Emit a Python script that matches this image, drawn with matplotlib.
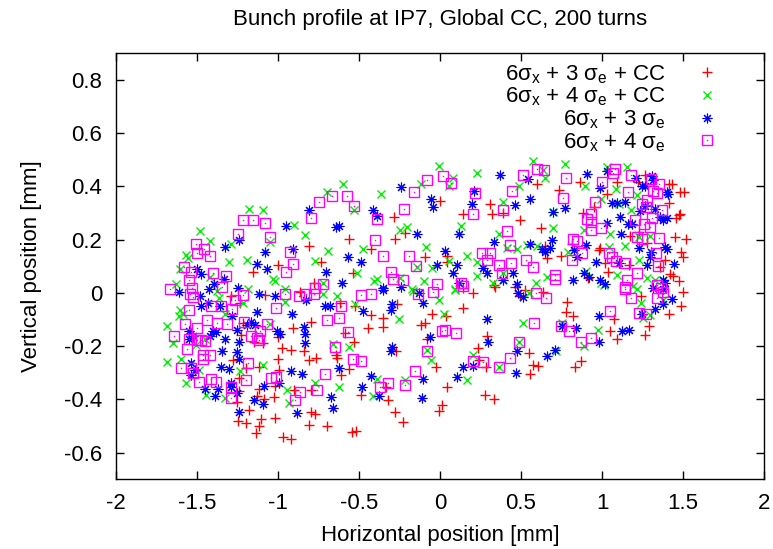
import numpy as np
import matplotlib
matplotlib.use("Agg")
from matplotlib import pyplot as plt
from matplotlib.legend_handler import HandlerTuple

plt.rcParams['font.family'] = ['Liberation Sans', 'DejaVu Sans']
plt.rcParams['mathtext.fontset'] = 'custom'
plt.rcParams['mathtext.rm'] = 'Liberation Sans'
plt.rcParams['mathtext.it'] = 'Liberation Sans'

# 6sx + 3 se + CC  (red +)
red = [(-0.563, 0.203), (-0.806, 0.175), (-0.736, 0.115), (-1.0, 0.103), (-1.156, 0.08), (-0.781, 0.038),
       (-1.292, -0.01), (-1.234, -0.038), (-1.078, -0.008), (-0.864, 0.003), (-0.617, -0.038), (-0.798, -0.108),
       (-0.909, -0.13), (-1.0, -0.165), (-1.09, -0.188), (-1.148, -0.183), (-1.23, -0.16), (-1.218, -0.113),
       (-0.975, -0.208), (-0.917, -0.213), (-0.839, -0.218), (-0.81, -0.253), (-0.765, -0.243), (-0.642, -0.235),
       (-0.633, -0.243), (-0.584, -0.15), (-0.563, -0.285), (-0.609, -0.31), (-0.7, -0.5), (-0.806, -0.498),
       (-0.798, -0.448), (-0.769, -0.453), (-1.02, -0.468), (-1.107, -0.473), (-1.115, -0.5), (-1.136, -0.525),
       (-0.967, -0.54), (-0.917, -0.548), (-1.247, -0.48), (-1.197, -0.49), (-1.181, -0.438), (-1.238, -0.37),
       (-1.251, -0.41), (-1.115, -0.36), (-1.131, -0.388), (-1.086, -0.4), (-1.024, -0.39), (-1.016, -0.35),
       (-0.991, -0.288), (-1.0, -0.248), (-1.238, -0.318), (-1.197, -0.283), (-1.279, -0.253), (-1.115, -0.278),
       (-0.901, -0.363), (-0.794, -0.363),
       (0.0, 0.345), (0.309, 0.335), (0.144, 0.298), (0.321, 0.298), (0.391, 0.3), (0.494, 0.275), (0.621, 0.245),
       (0.597, 0.408), (-0.284, 0.285), (-0.28, 0.203), (-0.214, 0.225), (-0.428, 0.165), (-0.095, 0.135),
       (0.041, 0.138), (0.041, 0.115), (-0.54, 0.073), (0.333, 0.03), (0.337, 0.023), (0.465, 0.023),
       (0.144, 0.018), (0.658, 0.13), (0.646, 0.175),
       (-0.523, -0.05), (-0.424, -0.083), (-0.354, -0.093), (-0.445, -0.13), (-0.354, -0.128), (-0.268, -0.04),
       (-0.272, -0.22), (-0.05, -0.078), (0.037, -0.085), (0.144, -0.055), (0.206, 0.0), (-0.116, -0.12),
       (-0.095, -0.113), (-0.079, -0.175), (-0.025, -0.278), (0.288, -0.163), (0.234, -0.208), (0.239, -0.253),
       (0.284, -0.278), (0.045, -0.353), (0.28, -0.383), (0.333, -0.398), (0.012, -0.42), (-0.008, -0.443),
       (-0.28, -0.448), (-0.226, -0.485), (-0.321, -0.403), (-0.334, -0.355), (-0.486, -0.385), (-0.544, -0.523),
       (-0.519, -0.518), (0.547, -0.225), (0.572, -0.27), (0.605, -0.275), (0.556, -0.305), (-0.531, -0.185),
       (0.638, 0.003), (0.494, -0.013), (0.527, 0.01),
       (0.864, 0.418), (0.732, 0.385), (1.09, 0.418), (1.029, 0.37), (1.222, 0.415), (1.263, 0.443),
       (1.411, 0.408), (1.432, 0.408), (1.481, 0.38), (1.506, 0.38), (1.411, 0.338), (1.481, 0.298),
       (1.457, 0.28), (1.477, 0.293), (0.885, 0.3), (0.95, 0.323), (0.815, 0.185), (0.988, 0.17), (0.979, 0.16),
       (1.173, 0.215), (1.226, 0.23), (1.275, 0.188), (1.391, 0.125), (1.448, 0.21), (1.518, 0.203),
       (1.489, 0.155), (1.498, 0.135), (1.358, 0.098), (1.016, 0.113), (1.164, 0.105), (1.037, 0.08),
       (0.913, 0.055), (1.419, 0.07), (1.436, 0.063), (1.473, 0.043), (0.749, 0.14),
       (0.786, -0.033), (0.777, -0.073), (0.823, -0.088), (1.074, -0.098), (1.049, -0.145), (1.09, -0.175),
       (1.263, -0.16), (1.288, -0.123), (1.411, -0.078), (1.489, -0.048), (1.502, 0.003), (1.238, -0.01),
       (0.835, -0.28), (0.868, -0.255)]

# 6sx + 4 se + CC  (green x)
green = [(-0.60, 0.41), (-0.70, 0.378), (-1.18, 0.315), (-1.09, 0.31), (-0.90, 0.255), (-1.48, 0.232),
         (-0.835, 0.217), (-1.42, 0.195), (-1.29, 0.182), (-1.05, 0.192), (-1.57, 0.142), (-1.555, 0.13),
         (-0.69, 0.157), (-1.30, 0.115), (-1.19, 0.122), (-0.77, 0.12), (-1.605, 0.09), (-1.03, 0.052),
         (-1.016, 0.045), (-1.63, 0.035), (-0.954, 0.015), (-1.185, 0.015), (-1.42, 0.058), (-0.72, 0.038),
         (-1.687, -0.125), (-1.605, -0.063), (-1.584, -0.081), (-1.613, -0.085), (-1.646, -0.188),
         (-1.506, -0.195), (-1.448, -0.175), (-1.683, -0.26), (-1.60, -0.25), (-1.49, -0.288), (-1.568, -0.34),
         (-1.444, -0.383), (-1.325, -0.393), (-1.234, -0.295), (-1.094, -0.27), (-0.934, -0.413),
         (-0.946, -0.363), (-0.773, -0.338), (-0.621, -0.353), (-0.658, -0.193), (-0.563, -0.203),
         (-0.638, -0.01), (-0.72, -0.003), (-0.954, -0.035), (-1.218, -0.038), (-1.366, -0.02), (-1.325, -0.08),
         (-1.049, -0.118), (-1.378, 0.008),
         (-0.008, 0.475), (0.23, 0.45), (0.572, 0.495), (0.638, 0.46), (0.65, 0.433), (0.078, 0.433),
         (0.058, 0.403), (-0.115, 0.408), (-0.366, 0.37), (-0.531, 0.313), (0.391, 0.343), (0.49, 0.4),
         (0.128, 0.25), (-0.247, 0.235), (-0.202, 0.248), (0.366, 0.223), (-0.473, 0.163), (-0.086, 0.173),
         (0.165, 0.138), (0.411, 0.168), (0.473, 0.163), (0.535, 0.18), (0.601, 0.175), (0.23, 0.115),
         (0.053, 0.118), (-0.05, 0.095), (-0.144, 0.098), (-0.515, 0.075), (-0.408, 0.045), (-0.387, 0.053),
         (-0.247, 0.055), (-0.099, 0.045), (-0.173, 0.013), (0.095, 0.015), (0.226, 0.065), (0.325, 0.038),
         (0.391, 0.048), (0.593, 0.038), (0.662, 0.06), (0.391, 0.073),
         (-0.523, -0.043), (-0.255, -0.098), (-0.008, -0.025), (0.025, -0.08), (-0.082, -0.215),
         (-0.054, -0.253), (-0.391, -0.325), (-0.214, -0.328), (-0.412, -0.388), (0.168, -0.328),
         (0.206, -0.233), (0.514, -0.113), (0.489, -0.185), (0.366, -0.278), (0.547, 0.0), (-0.165, 0.008),
         (0.094, 0.01),
         (0.773, 0.483), (0.897, 0.403), (1.029, 0.473), (1.152, 0.473), (1.086, 0.39), (1.103, 0.335),
         (1.214, 0.368), (1.177, 0.31), (0.992, 0.353), (0.7, 0.243), (0.695, 0.303), (0.889, 0.238),
         (1.049, 0.223), (1.14, 0.175), (1.226, 0.21), (1.045, 0.173), (1.296, 0.213), (0.79, 0.153),
         (1.09, 0.068), (0.996, 0.038), (1.012, 0.03), (1.189, 0.025), (1.275, 0.055), (1.325, 0.05),
         (1.226, 0.125), (0.901, 0.083), (1.378, 0.05),
         (0.753, -0.113), (0.975, -0.14), (0.889, -0.198), (0.716, -0.218), (1.238, -0.038), (1.255, -0.095),
         (1.296, -0.083), (1.378, -0.025), (1.214, 0.013)]

# 6sx + 3 se  (blue *)
blue = [(-0.806, 0.31), (-0.95, 0.25), (-0.642, 0.248), (-0.621, 0.253), (-1.329, 0.173), (-1.238, 0.198),
        (-1.078, 0.155), (-0.905, 0.163), (-0.568, 0.135), (-1.131, 0.11), (-1.07, 0.09), (-0.703, 0.08),
        (-1.502, 0.09), (-1.473, 0.07), (-1.395, 0.035), (-1.333, 0.053), (-1.247, 0.02), (-1.428, 0.015),
        (-0.605, 0.038),
        (-1.613, 0.005), (-1.432, -0.038), (-1.473, -0.048), (-1.358, -0.048), (-1.284, -0.085),
        (-1.127, -0.073), (-1.115, -0.003), (-1.02, -0.013), (-0.913, -0.078), (-0.839, -0.128),
        (-0.835, -0.155), (-0.831, -0.19), (-1.164, -0.108), (-1.193, -0.12), (-1.144, -0.12), (-1.255, -0.138),
        (-1.242, -0.183), (-1.251, -0.223), (-1.238, -0.248), (-1.004, -0.143), (-0.987, -0.155),
        (-1.399, -0.145), (-1.382, -0.148), (-1.423, -0.163), (-1.329, -0.175), (-1.547, -0.143),
        (-1.551, -0.173), (-1.526, -0.163), (-1.345, -0.22), (-1.539, -0.263), (-1.535, -0.308),
        (-1.514, -0.288), (-1.354, -0.278), (-1.3, -0.285), (-1.448, -0.36), (-1.37, -0.36), (-1.386, -0.388),
        (-1.288, -0.34), (-1.288, -0.353), (-1.251, -0.375), (-1.148, -0.403), (-1.09, -0.418), (-1.086, -0.35),
        (-0.991, -0.34), (-0.921, -0.293), (-0.851, -0.305), (-1.242, -0.448), (-0.884, -0.45), (-0.658, -0.433),
        (-0.67, -0.39), (-0.621, -0.283), (-0.707, -0.048), (-0.679, -0.048), (-0.827, -0.028), (-1.481, -0.013),
        (-0.239, 0.398), (-0.054, 0.353), (-0.041, 0.323), (0.21, 0.383), (0.198, 0.335), (0.37, 0.443),
        (0.556, 0.353), (0.461, 0.33), (0.543, 0.428), (-0.416, 0.313), (-0.391, 0.288), (-0.14, 0.22),
        (0.119, 0.223), (0.333, 0.193), (0.556, 0.185), (0.646, 0.153), (0.63, 0.163), (0.033, 0.158),
        (-0.49, 0.115), (-0.021, 0.103), (0.103, 0.103), (0.082, 0.073), (0.267, 0.093), (0.288, 0.073),
        (0.453, 0.073), (0.387, 0.05), (0.115, 0.038), (-0.35, 0.018), (-0.239, 0.023), (0.473, 0.033),
        (-0.474, -0.068), (-0.297, -0.043), (-0.301, -0.063), (-0.107, -0.038), (-0.128, 0.0), (-0.062, -0.165),
        (0.296, -0.183), (0.288, -0.098), (-0.297, -0.203), (-0.305, -0.22), (0.477, -0.218), (0.469, -0.3),
        (0.662, -0.238), (0.144, -0.28), (0.103, -0.315), (0.201, -0.275), (-0.103, -0.325), (-0.428, -0.313),
        (-0.482, -0.353), (-0.375, -0.388), (-0.111, -0.393), (-0.35, 0.01), (0.51, -0.015), (0.481, 0.0),
        (0.905, 0.445), (1.033, 0.458), (1.308, 0.438), (1.317, 0.425), (1.21, 0.43), (1.247, 0.4),
        (1.263, 0.4), (0.987, 0.393), (1.399, 0.38), (1.407, 0.373), (1.062, 0.338), (1.094, 0.338),
        (1.144, 0.343), (1.234, 0.308), (1.267, 0.328), (1.329, 0.315), (1.358, 0.285), (1.378, 0.273),
        (1.403, 0.28), (0.7, 0.303), (0.769, 0.318), (1.111, 0.285), (1.16, 0.258), (1.185, 0.26),
        (1.033, 0.263), (1.115, 0.223), (0.691, 0.2), (0.679, 0.168), (0.843, 0.133), (0.901, 0.18),
        (0.827, 0.16), (1.226, 0.168), (1.304, 0.155), (1.296, 0.135), (1.391, 0.173), (1.399, 0.163),
        (0.963, 0.115), (1.107, 0.113), (1.275, 0.103), (0.889, 0.073), (0.922, 0.058), (0.819, 0.05),
        (0.987, 0.048), (1.02, 0.033), (1.374, 0.05), (1.444, 0.108), (1.317, 0.02), (1.387, 0.038),
        (0.753, -0.125), (0.839, -0.133), (0.979, -0.085), (0.979, -0.183), (1.123, -0.143), (1.164, -0.138),
        (0.708, -0.215), (1.247, -0.078), (1.329, -0.06), (1.378, -0.04), (1.432, -0.023), (1.374, 0.013)]

# 6sx + 4 se  (magenta squares)
magenta = [(-0.666, 0.365), (-0.576, 0.365), (-0.745, 0.342), (-1.218, 0.272), (-1.152, 0.275),
           (-1.082, 0.263), (-0.798, 0.28), (-1.247, 0.22), (-1.049, 0.21), (-1.506, 0.185), (-1.46, 0.163),
           (-1.502, 0.148), (-1.419, 0.138), (-0.926, 0.153), (-0.909, 0.11), (-0.95, 0.08), (-1.58, 0.098),
           (-1.539, 0.078), (-1.403, 0.073), (-1.321, 0.065), (-1.551, 0.048), (-1.345, 0.023), (-0.72, 0.033),
           (-0.769, 0.018), (-1.666, 0.013), (-1.53, 0.018),
           (-1.543, -0.005), (-1.522, -0.015), (-1.263, -0.025), (-1.214, -0.008), (-0.958, -0.005),
           (-0.868, -0.013), (-0.827, -0.003), (-0.778, -0.003), (-1.012, -0.058), (-1.551, -0.063),
           (-1.415, -0.048), (-1.354, -0.048), (-1.284, -0.06), (-1.436, -0.1), (-1.572, -0.118),
           (-1.502, -0.13), (-1.374, -0.113), (-1.312, -0.115), (-1.21, -0.11), (-1.07, -0.118),
           (-1.111, -0.143), (-1.164, -0.163), (-1.127, -0.168), (-1.119, -0.178), (-1.642, -0.163),
           (-1.551, -0.175), (-1.498, -0.178), (-1.473, -0.178), (-1.452, -0.18), (-1.563, -0.21),
           (-1.461, -0.233), (-1.419, -0.235), (-1.461, -0.248), (-1.185, -0.263), (-1.596, -0.283),
           (-1.535, -0.283), (-1.526, -0.3), (-1.489, -0.335), (-1.415, -0.323), (-1.382, -0.333),
           (-1.292, -0.355), (-1.288, -0.395), (-1.197, -0.328), (-1.041, -0.318), (-1.012, -0.315),
           (-0.864, -0.373), (-0.897, -0.403), (-0.761, -0.363), (-0.712, -0.303), (-0.7, -0.103),
           (-0.625, -0.095), (-0.568, -0.148), (-0.646, -0.205), (-0.613, -0.05),
           (-0.082, 0.425), (0.021, 0.438), (0.066, 0.413), (-0.161, 0.38), (0.218, 0.375), (-0.222, 0.315),
           (-0.387, 0.278), (-0.531, 0.328), (0.202, 0.295), (0.387, 0.313), (0.444, 0.383), (0.514, 0.443),
           (0.6, 0.465), (0.642, 0.46), (0.411, 0.233), (0.432, 0.18), (-0.403, 0.2), (-0.354, 0.14),
           (-0.193, 0.138), (-0.148, 0.1), (0.259, 0.148), (0.309, 0.148), (0.292, 0.125), (0.362, 0.105),
           (0.436, 0.113), (0.531, 0.123), (0.576, 0.098), (-0.3, 0.078), (-0.292, 0.053), (-0.226, 0.048),
           (-0.016, 0.035), (0.144, 0.025), (0.128, 0.038), (0.383, 0.075),
           (-0.486, -0.008), (-0.428, -0.003), (-0.041, 0.003), (-0.136, -0.005), (0.58, -0.113),
           (0.654, -0.02), (0.592, 0.0), (0.012, -0.145), (0.033, -0.138), (0.099, -0.15), (-0.082, -0.22),
           (-0.54, -0.25), (-0.49, -0.255), (-0.152, -0.295), (-0.321, -0.34), (-0.37, -0.353), (-0.214, -0.345),
           (0.201, -0.255), (0.263, -0.258), (0.362, -0.278), (0.432, -0.245), (0.49, -0.183),
           (0.777, 0.43), (0.757, 0.355), (1.0, 0.418), (1.082, 0.465), (1.07, 0.45), (1.177, 0.443),
           (1.16, 0.378), (1.304, 0.428), (1.35, 0.41), (1.317, 0.383), (1.337, 0.375), (1.275, 0.35),
           (1.247, 0.333), (1.271, 0.323), (0.954, 0.343), (0.934, 0.298), (0.905, 0.278), (0.93, 0.265),
           (0.934, 0.235), (0.996, 0.243), (1.206, 0.273), (1.308, 0.28), (1.259, 0.26), (1.296, 0.248),
           (1.37, 0.313), (0.819, 0.203), (0.847, 0.195), (0.876, 0.15), (0.815, 0.125), (1.041, 0.148),
           (1.062, 0.135), (1.086, 0.118), (1.14, 0.113), (1.218, 0.21), (1.247, 0.203), (1.214, 0.073),
           (1.152, 0.048), (1.144, 0.023), (1.35, 0.208), (1.333, 0.15), (1.345, 0.1), (1.341, 0.03),
           (1.366, 0.02), (0.708, 0.068), (0.712, 0.053),
           (0.745, -0.125), (0.798, -0.145), (0.872, -0.185), (0.934, -0.17), (1.049, -0.068), (1.177, -0.02),
           (1.23, -0.075), (1.271, -0.08), (1.337, -0.018), (1.374, 0.005), (1.144, 0.013)]

labels = ['6σ$_\\mathrm{x}$ + 3 σ$_\\mathrm{e}$ + CC',
          '6σ$_\\mathrm{x}$ + 4 σ$_\\mathrm{e}$ + CC',
          '6σ$_\\mathrm{x}$ + 3 σ$_\\mathrm{e}$',
          '6σ$_\\mathrm{x}$ + 4 σ$_\\mathrm{e}$']

red = np.array(red)
green = np.array(green)
blue = np.array(blue)
magenta = np.array(magenta)

fig = plt.figure(figsize=(7.73, 5.49), dpi=100)
ax = fig.add_axes([0.1501, 0.127, 0.8383, 0.776])

h1, = ax.plot(red[:, 0], red[:, 1], ls='none', marker='+', ms=6.5, mew=1, color='#ff0000')
h2, = ax.plot(green[:, 0], green[:, 1], ls='none', marker='x', ms=5.5, mew=1, color='#00ee00')
h3, = ax.plot(blue[:, 0], blue[:, 1], ls='none', marker=(8, 2, 0), ms=7, mew=0.8, color='#0000ff')
h4, = ax.plot(magenta[:, 0], magenta[:, 1], ls='none', marker='s', ms=6.5, mew=1,
              mfc='none', mec='#ff00ff')
h4d, = ax.plot(magenta[:, 0], magenta[:, 1], ls='none', marker='s', ms=1, mew=0, color='#ff00ff')

ax.set_xlim(-2, 2)
ax.set_ylim(-0.7, 0.9)
ax.set_xticks(np.arange(-2, 2.01, 0.5))
ax.set_xticklabels(['-2', '-1.5', '-1', '-0.5', '0', '0.5', '1', '1.5', '2'])
ax.set_yticks(np.arange(-0.6, 0.81, 0.2))
ax.set_yticklabels(['-0.6', '-0.4', '-0.2', '0', '0.2', '0.4', '0.6', '0.8'])
ax.tick_params(direction='in', top=True, right=True, length=6, width=1, labelsize=16, pad=10)
for s in ax.spines.values():
    s.set_linewidth(1)

ax.set_title('Bunch profile at IP7, Global CC, 200 turns', fontsize=16, pad=20)
ax.set_xlabel('Horizontal position [mm]', fontsize=16, labelpad=8)
ax.set_ylabel('Vertical position [mm]', fontsize=16, labelpad=16)

leg = ax.legend([h1, h2, h3, (h4, h4d)], labels, loc='upper right',
                bbox_to_anchor=(729 / 773, (549 - 52) / 549), bbox_transform=fig.transFigure,
                markerfirst=False, frameon=False, fontsize=16, handlelength=1.0, handletextpad=1.35,
                borderpad=0, labelspacing=0.0, handler_map={tuple: HandlerTuple(ndivide=1)})

fig.savefig('out.png', dpi=100)
